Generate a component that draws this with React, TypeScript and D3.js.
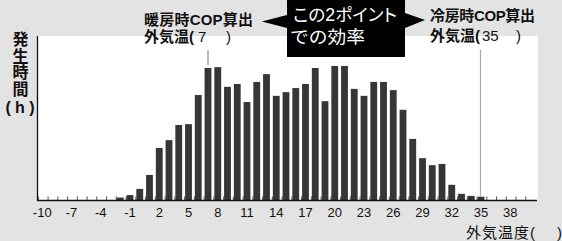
import React from "react";
import * as d3 from "d3";

const temps = [-10, -9, -8, -7, -6, -5, -4, -3, -2, -1, 0, 1, 2, 3, 4, 5, 6, 7, 8, 9, 10, 11, 12, 13, 14, 15, 16, 17, 18, 19, 20, 21, 22, 23, 24, 25, 26, 27, 28, 29, 30, 31, 32, 33, 34, 35, 36, 37, 38, 39, 40];
const hours = [0, 0, 0, 0, 0, 0, 0, 0, 6, 12, 27, 61, 127, 146, 183, 185, 256, 322, 324, 276, 283, 239, 288, 307, 254, 263, 273, 283, 322, 241, 327, 327, 271, 254, 288, 288, 268, 220, 149, 102, 85, 88, 37, 15, 10, 8, 0, 0, 0, 0, 0];
const tickLabels = [-10, -7, -4, -1, 2, 5, 8, 11, 14, 17, 20, 23, 26, 29, 32, 35, 38];
const heatingPoint = 7;
const coolingPoint = 35;

const W = 562;
const H = 241;
const LATIN = "'Liberation Sans', Arial, 'Noto Sans CJK JP', sans-serif";

export default function App() {
  const x = d3
    .scaleBand<number>()
    .domain(temps)
    .range([37.375, 534.625])
    .paddingInner(0.3)
    .paddingOuter(0.15);
  const y = d3.scaleLinear().domain([0, 400]).range([200, 36]);
  const bw = x.bandwidth();
  const cx = (t: number) => (x(t) as number) + bw / 2;

  return (
    <svg width={W} height={H} style={{ position: "absolute", left: 0, top: 0 }}>
      <rect x={0} y={0} width={W} height={H} fill="#e3e3e3" />
      <rect x={37} y={36} width={501} height={164} fill="#ffffff" />
      {/* tick marks */}
      {temps.map((t) => (
        <line
          key={"tk" + t}
          x1={(x(t) as number) - 0.5}
          x2={(x(t) as number) - 0.5}
          y1={200}
          y2={196.5}
          stroke="#555"
          strokeWidth={1}
        />
      ))}
      {/* bars */}
      {temps.map((t, i) =>
        hours[i] > 0 ? (
          <rect
            key={"b" + t}
            x={x(t) as number}
            y={y(hours[i])}
            width={bw}
            height={200 - y(hours[i])}
            fill="#363636"
          />
        ) : null
      )}
      {/* reference lines */}
      <line x1={cx(heatingPoint)} x2={cx(heatingPoint)} y1={50} y2={65} stroke="#777" strokeWidth={1} />
      <line x1={cx(coolingPoint) - 0.5} x2={cx(coolingPoint) - 0.5} y1={50} y2={196} stroke="#aaa" strokeWidth={1.2} />
      {/* axes */}
      <line x1={37.5} x2={37.5} y1={36} y2={200.5} stroke="#111" strokeWidth={1.3} />
      <line x1={37} x2={537} y1={200.5} y2={200.5} stroke="#111" strokeWidth={1.3} />
      {tickLabels.map((t) => (
        <text
          key={"l" + t}
          x={cx(t)}
          y={217}
          textAnchor="middle"
          fontFamily={LATIN}
          fontSize={13}
          fill="#111"
        >
          {t}
        </text>
      ))}
      {/* y title */}
      <g fontFamily={LATIN} fontWeight="bold" fontSize={16} fill="#111" textAnchor="middle">
        {["発", "生", "時", "間"].map((c, i) => (
          <text key={c} x={20.5} y={45 + i * 16.5}>
            {c}
          </text>
        ))}
        <text x={20} y={113} textLength={29} lengthAdjust="spacing">(h)</text>
      </g>
      {/* x title */}
      <text x={466} y={238} fontFamily={LATIN} fontSize={15} fill="#111">
        <tspan textLength={69} lengthAdjust="spacing">外気温度(</tspan>
        <tspan x={557}>)</tspan>
      </text>
      {/* annotations */}
      <g fontFamily={LATIN} fontSize={15} fill="#111">
        <text x={144} y={25} fontWeight="bold" textLength={109} lengthAdjust="spacing">暖房時COP算出</text>
        <text x={144} y={42}>
          <tspan fontWeight="bold">外気温(</tspan>
          <tspan x={198}>7</tspan>
          <tspan x={226}>)</tspan>
        </text>
        <text x={430} y={21} fontWeight="bold" textLength={105} lengthAdjust="spacing">冷房時COP算出</text>
        <text x={430} y={41}>
          <tspan fontWeight="bold">外気温(</tspan>
          <tspan x={482}>35</tspan>
          <tspan x={516}>)</tspan>
        </text>
      </g>
      {/* callout */}
      <rect x={287} y={0} width={118} height={57} fill="#000" />
      <path d="M287,15 L262,21.5 L287,28 Z" fill="#000" />
      <path d="M405,13 L425,20 L405,28 Z" fill="#000" />
      <g fontFamily={LATIN} fontSize={17.5} fill="#fff">
        <text x={293} y={21} style={{ fontFeatureSettings: "'palt'" }} textLength={104} lengthAdjust="spacingAndGlyphs">この2ポイント</text>
        <text x={290} y={43} textLength={75} lengthAdjust="spacingAndGlyphs">での効率</text>
      </g>
    </svg>
  );
}
